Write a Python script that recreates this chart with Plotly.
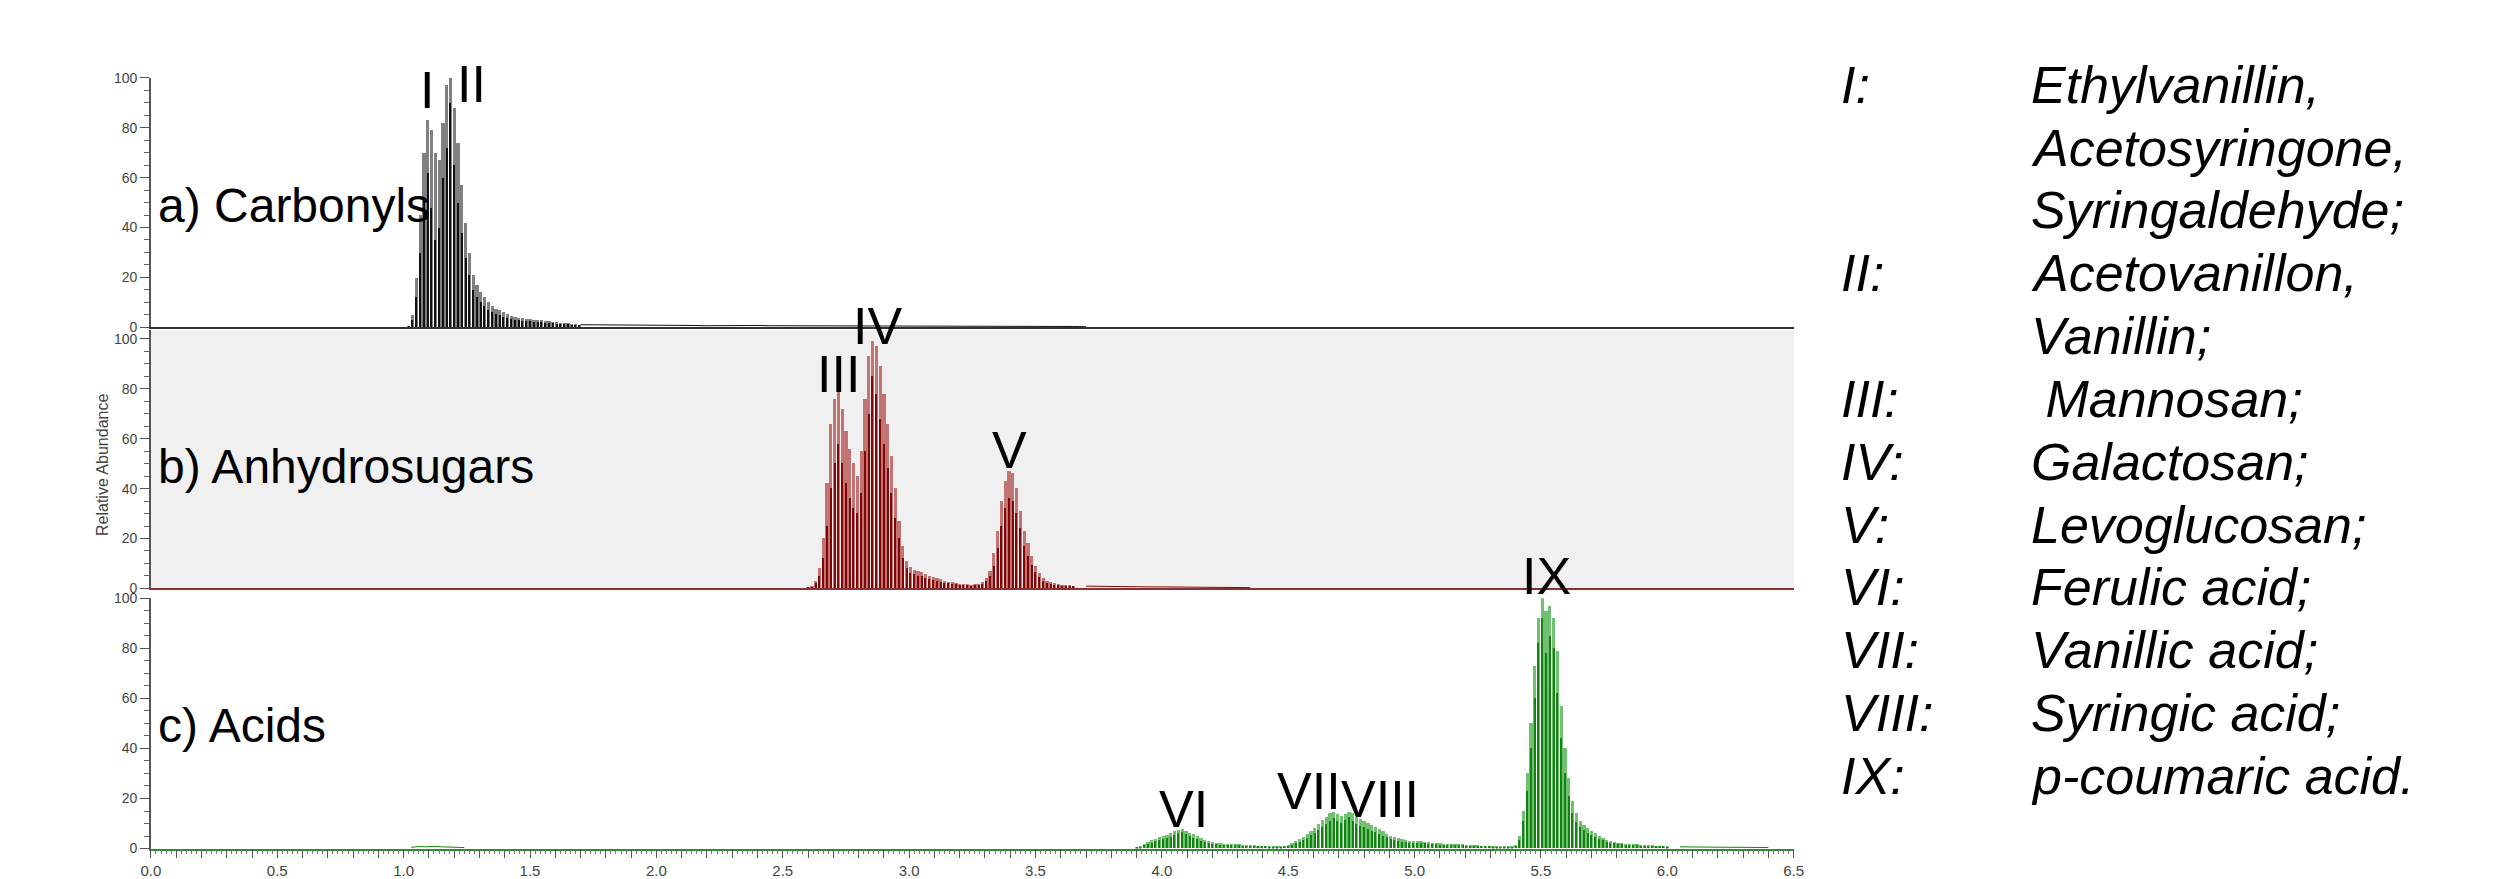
import plotly.graph_objects as go

# ---------------- data ----------------
# Panel a) Carbonyls : regular retention-time grid starting at a_start
a_start, a_step = 1.020, 0.015
a_env = [0.5, 5, 20, 45, 70, 83, 79, 70, 67, 82,
         97, 100, 88, 74, 57, 42, 30, 21, 17, 14,
         12, 10, 8.5, 7.5, 6.8, 6.0, 5.3, 4.7, 4.2, 3.9,
         3.7, 3.5, 3.3, 3.1, 2.9, 2.8, 2.6, 2.4, 2.2, 2.0,
         1.9, 1.7, 1.6, 1.4, 1.3, 1.1]
a_inner = [0.3, 3, 12, 30, 52, 62, 48, 35, 40, 60,
           72, 90, 65, 50, 38, 28, 21, 15, 12, 10,
           8.5, 7, 6, 5.3, 4.8, 4.2, 3.8, 3.4, 3.0, 2.8,
           2.6, 2.5, 2.4, 2.2, 2.1, 2.0, 1.9, 1.7, 1.6, 1.5,
           1.4, 1.3, 1.2, 1.1, 1.0, 0.9]
a_tail_start, a_tail_step = 1.70, 0.05
a_tail = [1.0, 1.0, 1.0, 1.0, 1.0, 1.0, 1.0, 0.8, 0.7, 0.7,
          0.6, 0.7, 0.6, 0.6, 0.7, 0.6, 0.6, 0.5, 0.6, 0.5,
          0.6, 0.5, 0.5, 0.6, 0.5, 0.5, 0.5, 0.4, 0.5, 0.4,
          0.4, 0.4, 0.5, 0.4, 0.4, 0.3, 0.4, 0.3, 0.3, 0.3, 0.2]

# Panel b) Anhydrosugars
b_start, b_step = 2.600, 0.015
b_env = [0.5, 1, 3, 8, 20, 42, 66, 76, 79, 72,
         63, 56, 50, 45, 55, 76, 93, 99, 97, 89,
         78, 66, 53, 40, 27, 17, 11, 8.5, 7.5, 7,
         6.4, 5.6, 4.9, 4.3, 3.9, 3.5, 3.0, 2.6, 2.3, 2.0,
         1.8, 1.6, 1.5, 1.4, 1.5, 1.8, 2.5, 4, 7, 14,
         23, 35, 43, 47, 46, 40, 31, 23, 18, 13,
         9, 6, 4, 3, 2.3, 1.9, 1.6, 1.4, 1.2, 1.1, 1.0]
b_inner = [0.3, 0.6, 2, 5, 12, 25, 40, 50, 58, 50,
           42, 36, 32, 30, 38, 55, 70, 85, 78, 68,
           58, 48, 38, 28, 20, 12, 8, 6, 5.5, 5,
           4.8, 4.2, 3.6, 3.2, 2.8, 2.5, 2.2, 1.9, 1.7, 1.5,
           1.3, 1.2, 1.1, 1.0, 1.1, 1.3, 1.8, 3, 5, 9,
           16, 25, 32, 36, 35, 30, 24, 17, 13, 9.5,
           6.5, 4.5, 3, 2.2, 1.7, 1.4, 1.2, 1.0, 0.9, 0.8, 0.7]
b_tail_start, b_tail_step = 3.70, 0.05
b_tail = [0.9, 0.8, 0.8, 0.7, 0.7, 0.6, 0.6, 0.6, 0.5, 0.5, 0.5, 0.4, 0.4, 0.3]

# Panel c) Acids
c_start, c_step = 3.900, 0.015
c_env = [0.3, 0.8, 1.8, 2.5, 3.2, 3.8, 4.4, 5.0, 5.5, 6.0,
         6.8, 7.4, 7.6, 7.0, 6.3, 5.6, 4.9, 4.2, 3.5, 3.0,
         2.5, 2.2, 2.0, 1.9, 1.8, 1.7, 1.6, 1.6, 1.5, 1.4,
         1.3, 1.2, 1.1, 1.0, 1.0, 0.9, 0.9, 0.9, 0.9, 1.0,
         1.3, 2.0, 2.8, 3.6, 4.6, 5.8, 7.0, 8.2, 9.8, 11.2,
         12.6, 14.0, 14.6, 13.6, 12.8, 13.6, 14.6, 14.0, 12.6, 11.8,
         11.0, 10.0, 9.2, 8.6, 7.8, 6.8, 5.9, 5.1, 4.5, 4.0,
         3.6, 3.3, 3.1, 3.0, 2.9, 2.8, 2.6, 2.4, 2.2, 2.1,
         2.0, 1.9, 1.8, 1.7, 1.7, 1.6, 1.6, 1.5, 1.4, 1.3,
         1.2, 1.1, 1.0, 1.0, 0.9, 0.9, 0.8, 0.8, 0.8, 0.9,
         1.5, 5, 15, 30, 50, 73, 92, 100, 95, 97,
         92, 79, 57, 40, 28, 19, 14, 11, 9.5, 8.2,
         7.0, 6.0, 5.0, 4.2, 3.5, 3.0, 2.6, 2.3, 2.1, 1.9,
         1.8, 1.7, 1.6, 1.5, 1.4, 1.3, 1.2, 1.1, 1.0, 1.0, 0.9]
c_inner = [0.2, 0.5, 1.2, 1.8, 2.3, 2.8, 3.2, 3.6, 4.0, 4.5,
           5.2, 6.0, 6.4, 5.6, 4.8, 4.2, 3.6, 3.1, 2.6, 2.2,
           1.9, 1.7, 1.5, 1.4, 1.4, 1.3, 1.2, 1.2, 1.1, 1.0,
           1.0, 0.9, 0.8, 0.8, 0.8, 0.7, 0.7, 0.7, 0.7, 0.8,
           1.0, 1.5, 2.1, 2.7, 3.4, 4.3, 5.2, 6.2, 7.4, 8.5,
           9.6, 11.0, 12.0, 10.8, 10.0, 11.2, 12.4, 11.0, 9.6, 9.0,
           8.4, 7.6, 7.0, 6.5, 5.9, 5.1, 4.4, 3.8, 3.4, 3.0,
           2.7, 2.5, 2.3, 2.3, 2.2, 2.1, 2.0, 1.8, 1.7, 1.6,
           1.5, 1.4, 1.4, 1.3, 1.3, 1.2, 1.2, 1.1, 1.1, 1.0,
           0.9, 0.8, 0.8, 0.8, 0.7, 0.7, 0.6, 0.6, 0.6, 0.7,
           1.0, 3.5, 11, 23, 40, 60, 82, 92, 78, 85,
           80, 62, 44, 30, 21, 14, 10.5, 8.5, 7.3, 6.2,
           5.3, 4.5, 3.8, 3.2, 2.7, 2.3, 2.0, 1.8, 1.6, 1.5,
           1.4, 1.3, 1.2, 1.1, 1.1, 1.0, 0.9, 0.9, 0.8, 0.8, 0.7]
c_tail_start, c_tail_step = 6.05, 0.05
c_tail = [0.7, 0.6, 0.6, 0.5, 0.5, 0.5, 0.4, 0.4]
c_early_start, c_early_step = 1.03, 0.03
c_early = [0.5, 0.8, 0.7, 0.9, 0.7, 0.6, 0.5, 0.4]

# Peak labels (roman numerals) : panel, retention time, height (panel units)
peak_labels = ["I", "II", "III", "IV", "V", "VI", "VII", "VIII", "IX"]
peak_panel = [1, 1, 2, 2, 2, 3, 3, 3, 3]
peak_x = [1.094, 1.268, 2.720, 2.874, 3.398, 4.086, 4.582, 4.862, 5.522]
peak_y = [95, 97.5, 86, 105, 55.5, 15.7, 22.9, 19.9, 108.7]

panel_labels = ["a) Carbonyls", "b) Anhydrosugars", "c) Acids"]

# Compound legend
legend_keys = ["I:", "", "", "II:", "", "III:", "IV:", "V:", "VI:", "VII:", "VIII:", "IX:"]
legend_names = ["Ethylvanillin,", "Acetosyringone,", "Syringaldehyde;", "Acetovanillon,",
                "Vanillin;", "\u00a0Mannosan;", "Galactosan;", "Levoglucosan;",
                "Ferulic acid;", "Vanillic acid;", "Syringic acid;", "p-coumaric acid."]

# Axis ticks
y_ticks = [0, 20, 40, 60, 80, 100]
x_tick_labels = ["0.0", "0.5", "1.0", "1.5", "2.0", "2.5", "3.0", "3.5",
                 "4.0", "4.5", "5.0", "5.5", "6.0", "6.5"]
x_range = [0, 6.5]

# ---------------- layout helpers ----------------
W, H = 2497, 879
FONT = "Liberation Sans, Arial, Helvetica, sans-serif"


def grid(start, step, n):
    return [round(start + i * step, 4) for i in range(n)]


def px(x):
    return x / W


def py(y):
    return 1 - y / H


xdom = [px(134), px(1790)]
ydoms = [[py(317), py(63)], [py(583), py(320)], [py(848), py(593)]]
yranges = [[0, 100], [0, 103.5], [0, 100]]


def to_paper(p, xv, yv):
    """convert data value of panel p (1..3) to paper coordinates (for labels outside range)"""
    d, r = ydoms[p - 1], yranges[p - 1]
    yy = d[0] + (yv - r[0]) / (r[1] - r[0]) * (d[1] - d[0])
    xx = xdom[0] + (xv - x_range[0]) / (x_range[1] - x_range[0]) * (xdom[1] - xdom[0])
    return xx, yy


panels = [
    (a_start, a_step, a_env, a_inner, [(a_tail_start, a_tail_step, a_tail)],
     "#808080", "#111111"),
    (b_start, b_step, b_env, b_inner, [(b_tail_start, b_tail_step, b_tail)],
     "#c27474", "#820606"),
    (c_start, c_step, c_env, c_inner, [(c_tail_start, c_tail_step, c_tail),
                                       (c_early_start, c_early_step, c_early)],
     "#6fc06f", "#118311"),
]

fig = go.Figure()
for k, (s, st, env, inner, tails, lc, dc) in enumerate(panels):
    xa = "x" if k == 0 else f"x{k + 1}"
    ya = "y" if k == 0 else f"y{k + 1}"
    xs = grid(s, st, len(env))
    fig.add_trace(go.Bar(x=xs, y=env, width=st * 0.85, marker=dict(color=lc, line=dict(width=0)),
                         xaxis=xa, yaxis=ya, showlegend=False))
    fig.add_trace(go.Bar(x=xs, y=inner, width=st * 0.33, marker=dict(color=dc, line=dict(width=0)),
                         xaxis=xa, yaxis=ya, showlegend=False))
    for ts, tst, tail in tails:
        fig.add_trace(go.Scatter(x=grid(ts, tst, len(tail)), y=tail, mode="lines",
                                 line=dict(color=dc, width=1), xaxis=xa, yaxis=ya,
                                 showlegend=False))

layout = dict(
    width=W, height=H, margin=dict(l=0, r=0, t=0, b=0),
    paper_bgcolor="white", plot_bgcolor="rgba(0,0,0,0)",
    barmode="overlay", bargap=0, showlegend=False,
    font=dict(family=FONT, color="#000"),
)

base_color = ["#333333", "#8b3030", "#2e8b2e"]
for k in range(3):
    xk = "xaxis" if k == 0 else f"xaxis{k + 1}"
    yk = "yaxis" if k == 0 else f"yaxis{k + 1}"
    ya = "y" if k == 0 else f"y{k + 1}"
    xd = dict(domain=xdom, anchor=ya, range=x_range, showgrid=False, zeroline=False,
              showline=True, linecolor=base_color[k], linewidth=1.5, fixedrange=True)
    if k < 2:
        xd.update(showticklabels=False, ticks="")
    else:
        tv = [float(t) for t in x_tick_labels]
        major_vals = [round(i * 0.1, 1) for i in range(66)]
        xd.update(tickvals=major_vals,
                  ticktext=[x_tick_labels[tv.index(v)] if v in tv else "" for v in major_vals],
                  ticks="outside", ticklen=8, tickwidth=1, tickcolor="#555",
                  tickfont=dict(size=15, color="#444", family=FONT),
                  minor=dict(dtick=0.02, tick0=0, ticks="outside", ticklen=4,
                             tickcolor="#777", tickwidth=1))
    layout[xk] = xd
    layout[yk] = dict(domain=ydoms[k], anchor="x" if k == 0 else f"x{k + 1}",
                      range=yranges[k], tickvals=y_ticks, ticks="outside", ticklen=9,
                      tickwidth=1, tickcolor="#555", showline=True, linecolor="#555",
                      linewidth=1.5, showgrid=False, zeroline=False,
                      tickfont=dict(size=14, color="#444", family=FONT),
                      minor=dict(dtick=5, ticks="outside", ticklen=5, tickcolor="#666"),
                      fixedrange=True)

fig.update_layout(**layout)

# grey background of panel b
fig.add_shape(type="rect", xref="x2 domain", yref="y2 domain", x0=0, x1=1, y0=0, y1=1,
              fillcolor="#f0f0f0", line=dict(width=0), layer="below")

# panel titles
for k, lab in enumerate(panel_labels):
    fig.add_annotation(text=lab, xref="x" if k == 0 else f"x{k + 1}",
                       yref="y" if k == 0 else f"y{k + 1}",
                       x=0.02, y=49, xanchor="left", yanchor="middle", showarrow=False,
                       font=dict(size=48, family=FONT, color="#000"))

# peak labels (paper coordinates so labels above the panel top are not hidden)
for lab, p, x, y in zip(peak_labels, peak_panel, peak_x, peak_y):
    xx, yy = to_paper(p, x, y)
    fig.add_annotation(text=lab, xref="paper", yref="paper",
                       x=xx, y=yy, xanchor="center", yanchor="middle", showarrow=False,
                       font=dict(size=52, family=FONT, color="#000"))

# y axis title
fig.add_annotation(text="Relative Abundance", xref="paper", yref="paper",
                   x=px(85), y=py(457), textangle=-90, showarrow=False,
                   xanchor="center", yanchor="middle",
                   font=dict(size=16, family=FONT, color="#444"))

# compound legend
for i, (key, name) in enumerate(zip(legend_keys, legend_names)):
    yy = py(70 + 64 * i)
    if key:
        fig.add_annotation(text=key, xref="paper", yref="paper", x=px(1836), y=yy,
                           xanchor="left", yanchor="middle", showarrow=False,
                           font=dict(size=52, family=FONT, color="#000", style="italic"))
    fig.add_annotation(text=name, xref="paper", yref="paper", x=px(2027), y=yy,
                       xanchor="left", yanchor="middle", showarrow=False,
                       font=dict(size=52, family=FONT, color="#000", style="italic"))

fig.write_html("out.html", config={"displayModeBar": False})
